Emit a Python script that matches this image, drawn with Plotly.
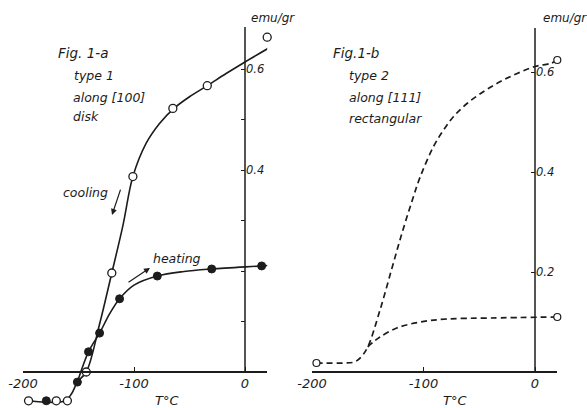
import plotly.graph_objects as go

W, H = 587, 408

# ---------------- data ----------------
# Fig. 1-a : cooling (open circles) and heating (filled circles)
cool_pts_T = [20, -34, -65, -101, -120, -143, -160, -170, -195]
cool_pts_M = [0.663, 0.567, 0.522, 0.387, 0.196, 0.0, -0.057, -0.057, -0.057]
heat_pts_T = [-179, -151, -141, -131, -113, -79, -30, 15]
heat_pts_M = [-0.057, -0.02, 0.04, 0.077, 0.145, 0.19, 0.204, 0.21]

cool_curve_T = [-195, -162, -156, -151, -143, -131, -120, -110, -101, -89, -77, -64, -50, -34, -17, -1.5, 21]
cool_curve_M = [-0.057, -0.057, -0.042, -0.02, 0.0, 0.095, 0.196, 0.29, 0.387, 0.453, 0.492, 0.522, 0.545, 0.567, 0.591, 0.612, 0.641]
heat_curve_T = [-151, -141, -131, -122, -113, -100, -79, -55, -30, 15, 21]
heat_curve_M = [-0.02, 0.04, 0.077, 0.115, 0.145, 0.172, 0.19, 0.199, 0.204, 0.21, 0.211]

# Fig. 1-b : dashed curves
b_up_T = [-196, -172, -162, -156, -150, -139, -128, -119, -110, -103, -91, -82, -73, -61, -46, -31, -16, 0, 13.5, 19]
b_up_M = [0.018, 0.018, 0.02, 0.03, 0.05, 0.124, 0.21, 0.28, 0.344, 0.39, 0.451, 0.484, 0.511, 0.537, 0.561, 0.581, 0.597, 0.611, 0.617, 0.622]
b_low_T = [-150, -145, -139, -124, -103, -79, -40, 19]
b_low_M = [0.05, 0.06, 0.07, 0.088, 0.1, 0.106, 0.108, 0.11]
b_pts_T = [-196, 20, 20]
b_pts_M = [0.018, 0.624, 0.11]

x_tickvals = [-200, -100, 0]
x_ticktext = ["-200", "-100", "0"]
ya_tickvals = [0.1, 0.2, 0.3, 0.4, 0.5, 0.6]
ya_ticktext = ["", "", "", "0.4", "", "0.6"]
yb_tickvals = [0.2, 0.4, 0.6]
yb_ticktext = ["0.2", "0.4", "0.6"]

# ---------------- layout helpers ----------------
INK = "#1c1c1c"
FONT = "DejaVu Sans"

def px_x(p):
    return p / W

def px_y(p):
    return 1 - p / H

XR = [-200, 20]
YR = [-0.07, 0.70]
# panel a: -200 -> 23px, 0 -> 245px ; y=0 -> 372px, 505 px per unit
a_x0, a_x1 = 23, 23 + 220 * 1.11
a_yb, a_yt = 372 + 0.07 * 505, 372 - 0.70 * 505
# panel b: -200 -> 312px, 0 -> 535px ; 500 px per unit
b_x0, b_x1 = 312, 312 + 220 * 1.115
b_yb, b_yt = 372 + 0.07 * 500, 372 - 0.70 * 500

fig = go.Figure()

line_a = dict(color=INK, width=1.6, shape="spline", smoothing=1.0)
fig.add_trace(go.Scatter(x=cool_curve_T, y=cool_curve_M, mode="lines", line=line_a,
                         xaxis="x", yaxis="y", hoverinfo="skip"))
fig.add_trace(go.Scatter(x=heat_curve_T, y=heat_curve_M, mode="lines", line=line_a,
                         xaxis="x", yaxis="y", hoverinfo="skip"))
fig.add_trace(go.Scatter(x=cool_pts_T, y=cool_pts_M, mode="markers",
                         marker=dict(symbol="circle", size=8, color="white",
                                     line=dict(color=INK, width=1.3)),
                         xaxis="x", yaxis="y", cliponaxis=False))
fig.add_trace(go.Scatter(x=heat_pts_T, y=heat_pts_M, mode="markers",
                         marker=dict(symbol="circle", size=8, color=INK,
                                     line=dict(color=INK, width=1)),
                         xaxis="x", yaxis="y", cliponaxis=False))

line_b = dict(color=INK, width=1.7, dash="6px,4px", shape="spline", smoothing=1.0)
fig.add_trace(go.Scatter(x=b_up_T, y=b_up_M, mode="lines", line=line_b,
                         xaxis="x2", yaxis="y2", hoverinfo="skip"))
fig.add_trace(go.Scatter(x=b_low_T, y=b_low_M, mode="lines", line=line_b,
                         xaxis="x2", yaxis="y2", hoverinfo="skip"))
fig.add_trace(go.Scatter(x=b_pts_T, y=b_pts_M, mode="markers",
                         marker=dict(symbol="circle", size=7, color="white",
                                     line=dict(color=INK, width=1.2)),
                         xaxis="x2", yaxis="y2", cliponaxis=False))

xtickfont = dict(family=FONT, size=13, color=INK, style="italic")
ytickfont = dict(family=FONT, size=11.5, color=INK, style="italic")

def xaxis(x0, x1):
    return dict(domain=[px_x(x0), px_x(x1)], range=XR, anchor="free",
                position=px_y(372), showline=True, linecolor=INK, linewidth=1.5,
                ticks="inside", ticklen=4, tickwidth=1.2, tickcolor=INK,
                tickvals=x_tickvals, ticktext=x_ticktext, tickfont=xtickfont,
                showgrid=False, zeroline=False, automargin=False)

def yaxis(yb, yt, xpos, tv, tt):
    return dict(domain=[px_y(yb), px_y(yt)], range=YR, anchor="free",
                position=px_x(xpos), side="right",
                showline=False, ticks="inside", ticklen=4, tickwidth=1.2,
                tickcolor=INK, tickvals=tv, ticktext=tt, tickfont=ytickfont,
                showgrid=False, zeroline=False, automargin=False)

fig.update_layout(
    width=W, height=H,
    margin=dict(l=0, r=0, t=0, b=0, pad=0, autoexpand=False),
    paper_bgcolor="white", plot_bgcolor="white", showlegend=False,
    xaxis=xaxis(a_x0, a_x1), yaxis=yaxis(a_yb, a_yt, 245, ya_tickvals, ya_ticktext),
    xaxis2=xaxis(b_x0, b_x1), yaxis2=yaxis(b_yb, b_yt, 535, yb_tickvals, yb_ticktext),
)

# vertical axis lines (from 0 up to the top of each scale)
fig.add_shape(type="line", xref="x", yref="y", x0=0, x1=0, y0=0, y1=0.683,
              line=dict(color=INK, width=1.5))
fig.add_shape(type="line", xref="x2", yref="y2", x0=0, x1=0, y0=0, y1=0.688,
              line=dict(color=INK, width=1.5))

txt = dict(family=FONT, size=12.5, color=INK, style="italic")

def label(x, y, s, xanchor="left", size=12.5):
    f = dict(txt); f["size"] = size
    fig.add_annotation(xref="paper", yref="paper", x=px_x(x), y=px_y(y), text=s,
                       showarrow=False, xanchor=xanchor, yanchor="middle", font=f)

# panel captions
label(56, 53, "Fig. 1-a", size=13.5)
label(72, 75, "type 1")
label(71, 97, "along [100]")
label(71, 117, "disk")
label(331, 53, "Fig.1-b", size=13.5)
label(347, 75, "type 2")
label(347, 97, "along [111]")
label(347, 118, "rectangular")

# unit labels and axis titles
label(273, 18, "emu/gr", xanchor="center", size=12)
label(565, 18, "emu/gr", xanchor="center", size=12)
label(167, 400, "T°C", xanchor="center", size=13)
label(455, 400, "T°C", xanchor="center", size=13)

# cooling / heating with arrows (data coordinates)
fig.add_annotation(xref="x", yref="y", x=-144, y=0.356, text="cooling",
                   showarrow=False, font=txt)
fig.add_annotation(xref="x", yref="y", x=-61, y=0.224, text="heating",
                   showarrow=False, font=txt)
fig.add_annotation(xref="x", yref="y", axref="x", ayref="y",
                   x=-119.8, y=0.311, ax=-111.7, ay=0.364, text="",
                   showarrow=True, arrowhead=2, arrowsize=1, arrowwidth=1.2,
                   arrowcolor=INK)
fig.add_annotation(xref="x", yref="y", axref="x", ayref="y",
                   x=-85.6, y=0.206, ax=-106.3, ay=0.176, text="",
                   showarrow=True, arrowhead=2, arrowsize=1, arrowwidth=1.2,
                   arrowcolor=INK)

fig.write_html("out.html")
